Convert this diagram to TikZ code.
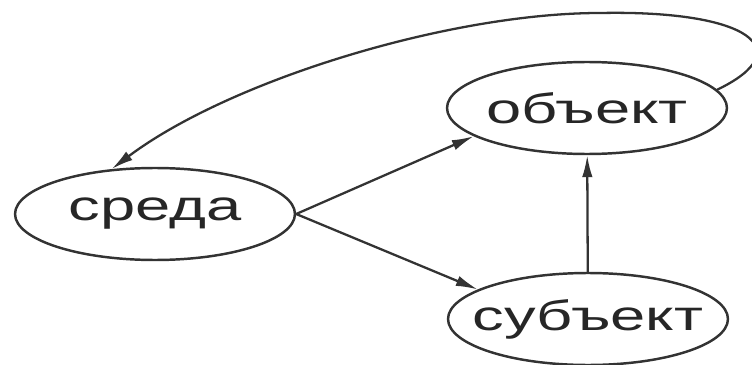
\documentclass[tikz,border=0pt]{standalone}
\usepackage{fontspec}
\newfontfamily\lblfont[FakeStretch=1.5]{Liberation Sans}
\usetikzlibrary{shapes.geometric,arrows.meta}
\newcommand{\lbl}[1]{\makebox[0pt][c]{#1}}
\begin{document}
\begin{tikzpicture}[
    x=0.02cm, y=-0.02cm,
    >={Latex[length=0.44cm,width=0.21cm]},
    ell/.style={
        ellipse,
        draw=black!80,
        text=black!85,
        line width=1.4pt,
        minimum width=5.6cm,
        minimum height=1.84cm,
        inner sep=0pt,
        font=\lblfont\fontsize{24}{28}\selectfont
    },
    link/.style={->, draw=black!80, line width=1.3pt}
]
\useasboundingbox (0,0) rectangle (752,365);

\node[ell] (sreda) at (155,214) {\lbl{среда}};
\node[ell] (obekt) at (587,108) {\lbl{объект}};
\node[ell] (subekt) at (588,319) {\lbl{субъект}};

\draw[link] (sreda.east) -- (obekt.194);
\draw[link] (sreda.east) -- (subekt.165);
\draw[link] (subekt) -- (obekt);
\draw[link] (obekt.8) .. controls (800,50) and (750,10) .. (600,13)
    .. controls (450,13) and (230,80) .. (sreda.134);

\end{tikzpicture}
\end{document}
